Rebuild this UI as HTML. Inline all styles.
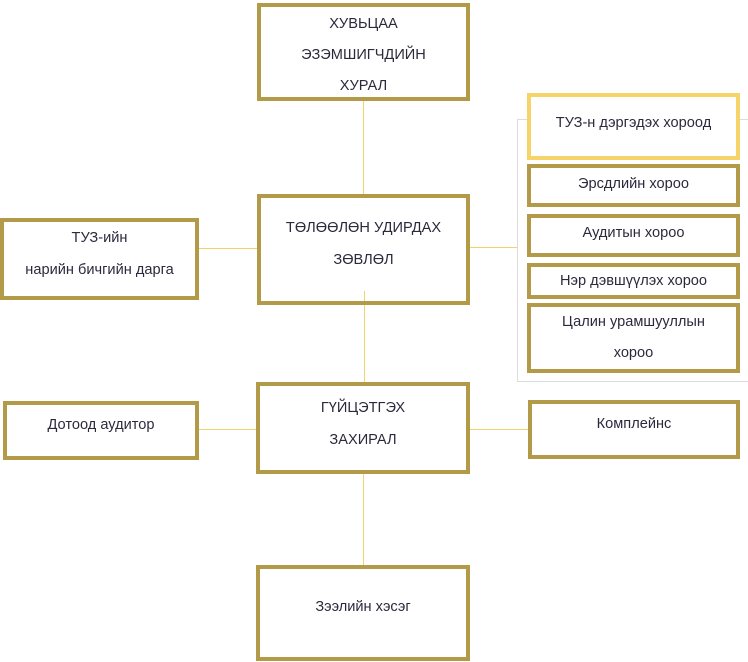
<!DOCTYPE html>
<html><head><meta charset="utf-8">
<style>
html,body{margin:0;padding:0;background:#fff;}
body{width:748px;height:662px;position:relative;overflow:hidden;font-family:"Liberation Sans","DejaVu Sans",sans-serif;color:#2b2a3d;font-size:14.6px;}
.b{position:absolute;box-sizing:border-box;border:4px solid #b29a48;background:#fff;text-align:center;}
.b div{position:absolute;left:0;right:0;text-align:center;white-space:nowrap;}
.l{position:absolute;background:#f2d36e;}
.g{position:absolute;background:#dcdcdc;}
</style></head><body>
<div class="g" style="left:517px;top:119px;width:1px;height:263px"></div>
<div class="g" style="left:517px;top:119px;width:231px;height:1px"></div>
<div class="g" style="left:517px;top:381px;width:231px;height:1px"></div>
<div class="l" style="left:363px;top:100px;width:1px;height:94px"></div>
<div class="l" style="left:364px;top:291px;width:1px;height:91px"></div>
<div class="l" style="left:363px;top:473px;width:1px;height:92px"></div>
<div class="l" style="left:198px;top:248px;width:59px;height:1px"></div>
<div class="l" style="left:469px;top:247px;width:48px;height:1px"></div>
<div class="l" style="left:198px;top:429px;width:59px;height:1px"></div>
<div class="l" style="left:469px;top:429px;width:59px;height:1px"></div>

<div class="b" style="left:257px;top:3px;width:213px;height:98px">
 <div style="top:9px">ХУВЬЦАА</div><div style="top:40px">ЭЗЭМШИГЧДИЙН</div><div style="top:71px">ХУРАЛ</div></div>
<div class="b" style="left:257px;top:194px;width:213px;height:111px">
 <div style="top:22px">ТӨЛӨӨЛӨН УДИРДАХ</div><div style="top:54px">ЗӨВЛӨЛ</div></div>
<div class="l" style="left:364px;top:291px;width:1px;height:10px"></div>
<div class="b" style="left:0px;top:218px;width:199px;height:82px">
 <div style="top:8px">ТУЗ-ийн</div><div style="top:40px">нарийн бичгийн дарга</div></div>
<div class="b" style="left:256px;top:382px;width:214px;height:92px">
 <div style="top:14px">ГҮЙЦЭТГЭХ</div><div style="top:46px">ЗАХИРАЛ</div></div>
<div class="b" style="left:3px;top:401px;width:196px;height:59px">
 <div style="top:12px">Дотоод аудитор</div></div>
<div class="b" style="left:528px;top:400px;width:212px;height:59px">
 <div style="top:12px">Комплейнс</div></div>
<div class="b" style="left:256px;top:565px;width:214px;height:96px">
 <div style="top:30px">Зээлийн хэсэг</div></div>

<div class="b" style="left:527px;top:93px;width:213px;height:67px;border-color:#f5d46a">
 <div style="top:18px">ТУЗ-н дэргэдэх хороод</div></div>
<div class="b" style="left:527px;top:164px;width:213px;height:43px">
 <div style="top:8px">Эрсдлийн хороо</div></div>
<div class="b" style="left:527px;top:214px;width:213px;height:43px">
 <div style="top:7px">Аудитын хороо</div></div>
<div class="b" style="left:527px;top:263px;width:213px;height:36px">
 <div style="top:6px">Нэр дэвшүүлэх хороо</div></div>
<div class="b" style="left:527px;top:303px;width:213px;height:70px">
 <div style="top:7px">Цалин урамшууллын</div><div style="top:38px">хороо</div></div>
</body></html>
